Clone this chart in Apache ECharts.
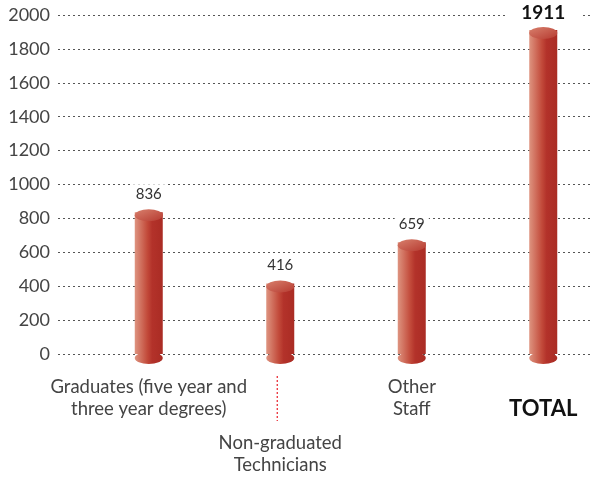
<!DOCTYPE html>
<html>
<head>
<meta charset="utf-8">
<script src="https://cdn.jsdelivr.net/npm/echarts@6/dist/echarts.min.js"></script>
<style>html,body{margin:0;padding:0;background:#fff}#c{width:591px;height:479px}</style>
</head>
<body>
<div id="c"></div>
<script>
var categories = ['Graduates (five year and\nthree year degrees)', 'Non-graduated\nTechnicians', 'Other\nStaff', 'TOTAL'];
var values = [836, 416, 659, 1911];
var yMin = 0, yMax = 2000, yStep = 200;

var chart = echarts.init(document.getElementById('c'));
var FONT = 'Lato';
var bodyGrad = new echarts.graphic.LinearGradient(0, 0, 1, 0, [
  {offset: 0, color: '#de9480'},
  {offset: 0.45, color: '#c24a3a'},
  {offset: 0.62, color: '#b3322a'},
  {offset: 1, color: '#aa2c24'}
]);
var capGrad = new echarts.graphic.LinearGradient(0, 0, 1, 1, [
  {offset: 0, color: '#d8806d'},
  {offset: 1, color: '#b63a30'}
]);
var option = {
  animation: false,
  grid: [
    {left: 58, right: 0, top: 15, bottom: 125, outerBoundsMode: 'none'},
    {left: 83, width: 526, top: 15, bottom: 125, outerBoundsMode: 'none'}
  ],
  xAxis: [
    {gridIndex: 0, type: 'category', data: categories, show: false},
    {gridIndex: 1, type: 'category', data: categories,
     axisLine: {show: false}, axisTick: {show: false},
     axisLabel: {
       margin: 22, interval: 0, fontFamily: FONT, fontSize: 18.5, color: '#444', lineHeight: 22,
       formatter: function (v, i) {
         if (i === 1) { return '{s| }\n' + v; }
         if (i === 3) { return ' \n{t|' + v + '}'; }
         return v;
       },
       rich: {
         s: {lineHeight: 56, fontSize: 10},
         t: {fontWeight: 'bold', fontSize: 22, color: '#111', fontFamily: FONT, lineHeight: 22}
       }
     }}
  ],
  yAxis: [
    {gridIndex: 0, type: 'value', min: yMin, max: yMax, interval: yStep,
     axisLine: {show: false}, axisTick: {show: false},
     axisLabel: {margin: 8, fontFamily: FONT, fontSize: 18, color: '#444',
       formatter: function (v) { return String(v); }},
     splitLine: {show: true, lineStyle: {type: [2, 3], color: '#555', width: 1}}},
    {gridIndex: 1, type: 'value', min: yMin, max: yMax, interval: yStep, show: false, splitLine: {show: false}}
  ],
  series: [
    {type: 'bar', xAxisIndex: 1, yAxisIndex: 1, data: values, barWidth: 28,
     itemStyle: {color: bodyGrad}, z: 3},
    {type: 'pictorialBar', xAxisIndex: 1, yAxisIndex: 1, data: values,
     symbol: 'circle', symbolSize: [28, 12], symbolOffset: [0, '83%'], symbolPosition: 'start',
     itemStyle: {color: bodyGrad}, z: 2},
    {type: 'pictorialBar', xAxisIndex: 1, yAxisIndex: 1, data: values,
     symbol: 'circle', symbolSize: [28, 12], symbolOffset: [0, '-25%'], symbolPosition: 'end',
     itemStyle: {color: capGrad}, z: 4,
     label: {show: true, position: 'top', distance: 6, fontFamily: FONT, fontSize: 15, color: '#333',
       backgroundColor: '#fff', padding: [2, 4],
       formatter: function (p) { return p.dataIndex === 3 ? '{b|' + p.value + '}' : p.value; },
       rich: {b: {fontWeight: 'bold', fontSize: 19, color: '#111', fontFamily: FONT, lineHeight: 12, padding: [0, 12]}}}}
  ]
};
chart.setOption(option);
var x = chart.convertToPixel({xAxisIndex: 1}, categories[1]) - 3;
var y0 = chart.convertToPixel({yAxisIndex: 1}, 0);
chart.setOption({graphic: [{type: 'line', shape: {x1: x, y1: y0 + 22, x2: x, y2: y0 + 67},
  style: {stroke: '#e8202a', lineWidth: 1.2, lineDash: [2, 2]}}]});
</script>
</body>
</html>
